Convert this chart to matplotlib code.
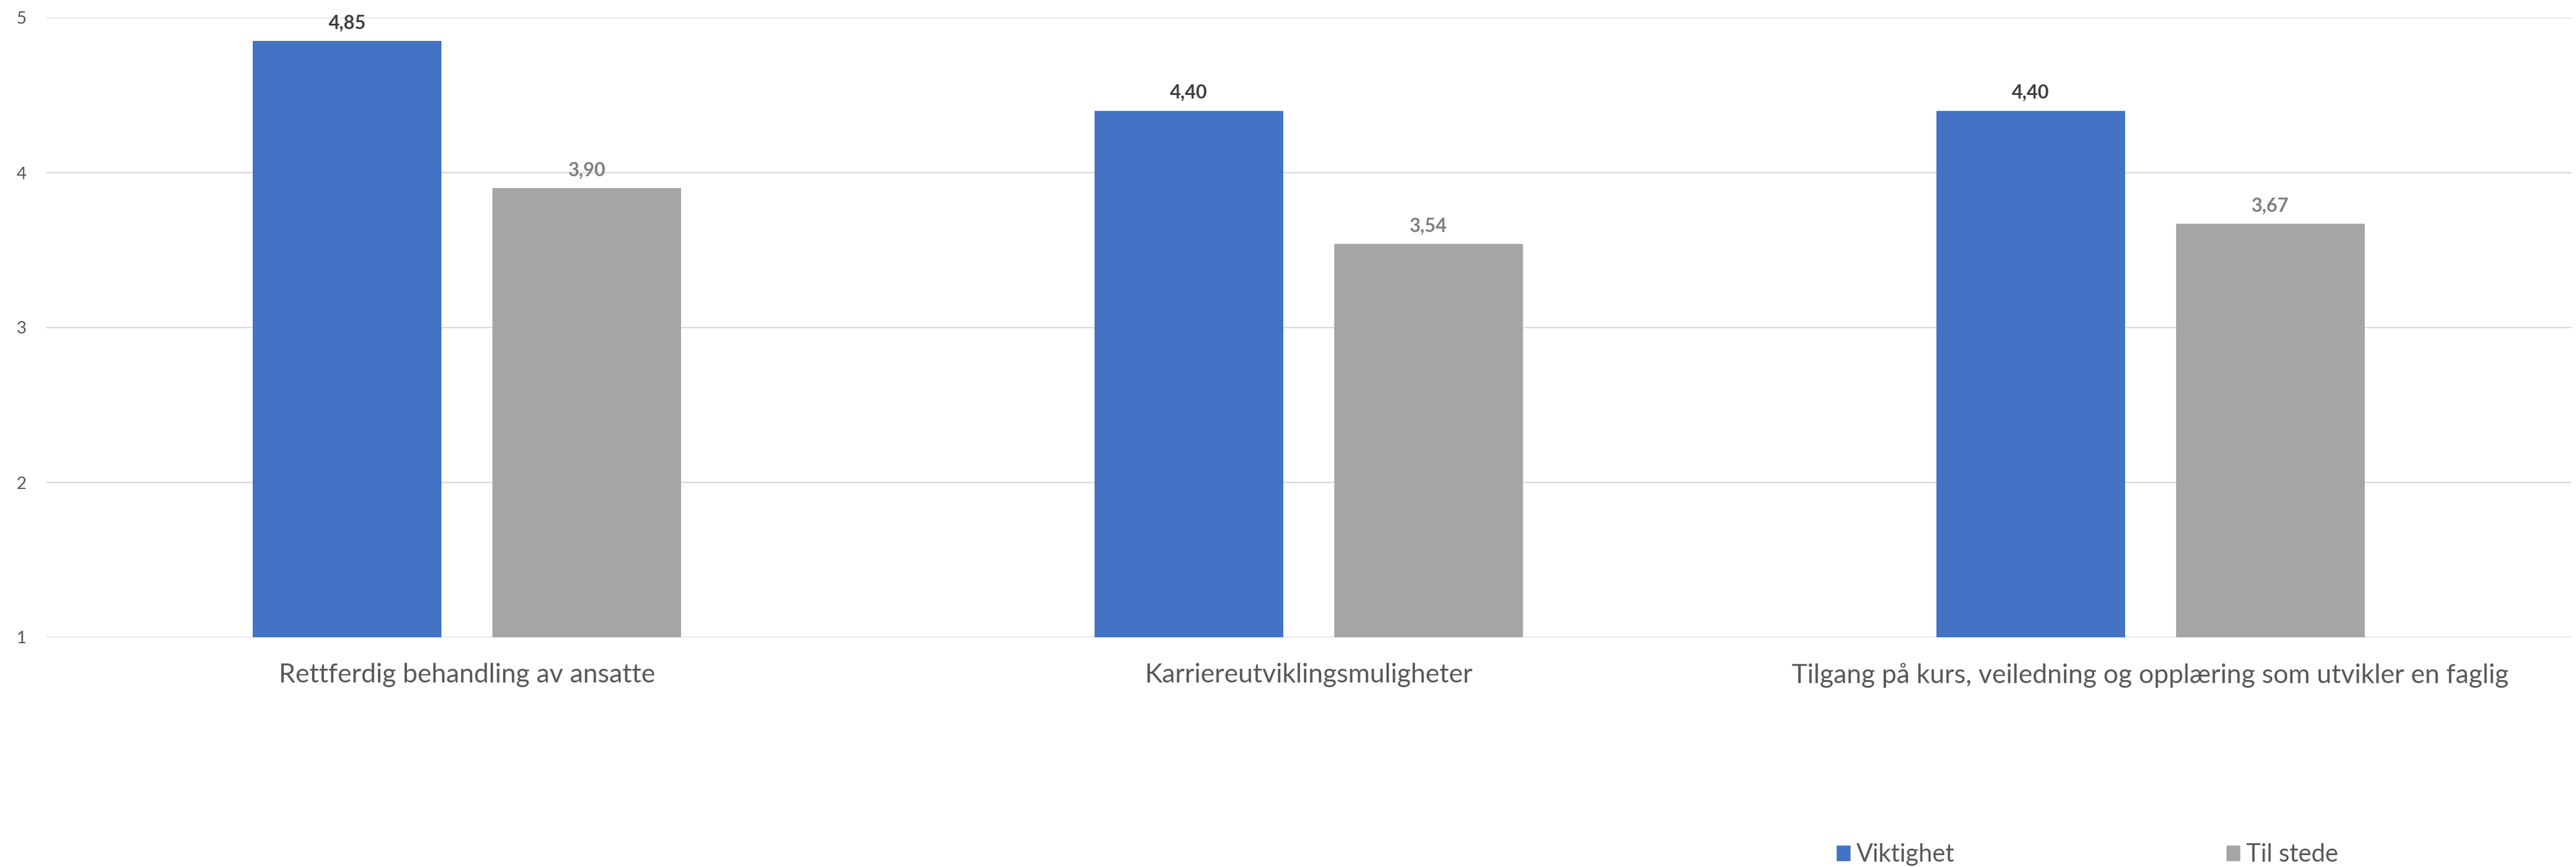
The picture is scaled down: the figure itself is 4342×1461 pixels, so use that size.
"""
Grouped bar chart: importance (Viktighet) vs. presence (Til stede) per factor.
Excel-like styling, saved as out.png.
"""

import matplotlib

matplotlib.use("Agg")

import matplotlib.pyplot as plt
import numpy as np
from matplotlib.patches import Patch

CATEGORIES = [
	"Rettferdig behandling av ansatte",
	"Karriereutviklingsmuligheter",
	"Tilgang på kurs, veiledning og opplæring som utvikler en faglig",
]
SERIES_NAMES = ["Viktighet", "Til stede"]
VIKTIGHET = [4.85, 4.40, 4.40]
TIL_STEDE = [3.90, 3.54, 3.67]
Y_TICKS = [1, 2, 3, 4, 5]

BLUE = "#4472C4"
GRAY = "#A5A5A5"
TEXT = "#595959"
GRID = "#D9D9D9"

W, H, DPI = 4342, 1461, 100


def _fmt(v: float) -> str:
	return f"{v:.2f}".replace(".", ",")


def main() -> None:
	plt.rcParams["font.family"] = ["Lato", "DejaVu Sans"]

	fig = plt.figure(figsize=(W / DPI, H / DPI), dpi=DPI)
	# plot area in pixels: x 78..4334, y 30..1074 (from top)
	ax = fig.add_axes([78 / W, 1 - 1074 / H, (4334 - 78) / W, (1074 - 30) / H])

	x = np.arange(len(CATEGORIES))
	bw = 0.224
	off = 0.1424

	bars_v = ax.bar(x - off, [v - 1 for v in VIKTIGHET], bw, bottom=1, color=BLUE, zorder=3)
	bars_t = ax.bar(x + off, [v - 1 for v in TIL_STEDE], bw, bottom=1, color=GRAY, zorder=3)

	for bars, vals, col in ((bars_v, VIKTIGHET, "#404040"), (bars_t, TIL_STEDE, "#7F7F7F")):
		for b, v in zip(bars, vals):
			ax.annotate(
				_fmt(v),
				(b.get_x() + b.get_width() / 2, v),
				xytext=(0, 22),
				textcoords="offset points",
				ha="center",
				va="center",
				fontsize=23,
				fontweight="bold",
				color=col,
			)

	ax.set_xlim(-0.5, len(CATEGORIES) - 0.5)
	ax.set_ylim(1, 5)
	ax.set_yticks(Y_TICKS)
	ax.set_yticklabels([str(t) for t in Y_TICKS])
	ax.set_xticks(x)
	ax.set_xticklabels(CATEGORIES)

	ax.tick_params(axis="y", length=0, pad=24, labelsize=21, labelcolor=TEXT)
	ax.tick_params(axis="x", length=0, pad=31, labelsize=32, labelcolor=TEXT)
	ax.grid(axis="y", color=GRID, linewidth=1.6, zorder=0)
	ax.set_axisbelow(True)
	for s in ax.spines.values():
		s.set_visible(False)

	handles = [Patch(color=BLUE), Patch(color=GRAY)]
	fig.legend(
		handles,
		SERIES_NAMES,
		loc="center left",
		bbox_to_anchor=(3096 / W, 1 - 1440 / H),
		ncol=2,
		frameon=False,
		fontsize=30,
		labelcolor=TEXT,
		handlelength=0.53,
		handleheight=0.53,
		handletextpad=0.26,
		columnspacing=11.0,
		borderpad=0,
		borderaxespad=0,
	)

	fig.savefig("out.png", dpi=DPI, facecolor="white")


if __name__ == "__main__":
	main()
